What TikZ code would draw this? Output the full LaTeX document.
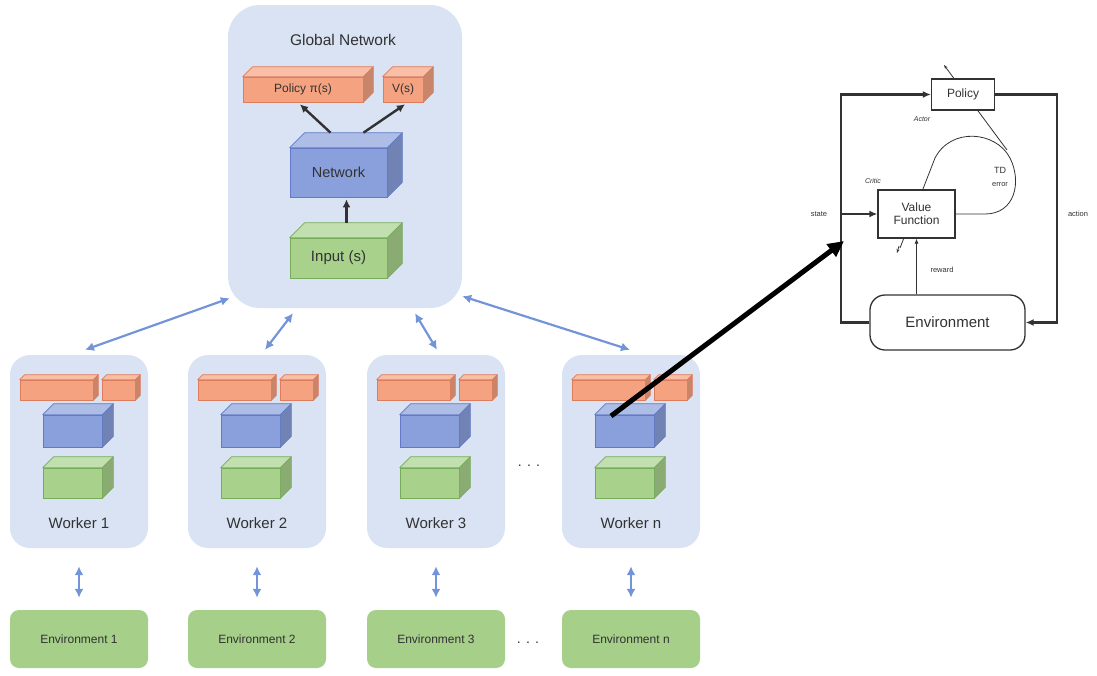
\documentclass[tikz,border=0pt]{standalone}
\usepackage{fontspec}
\setmainfont{Liberation Sans}
\usetikzlibrary{arrows.meta}

\definecolor{panel}{RGB}{217,227,243}
\definecolor{orfill}{RGB}{245,162,128}
\definecolor{oredge}{RGB}{222,125,92}
\definecolor{bufill}{RGB}{138,160,220}
\definecolor{buedge}{RGB}{98,122,198}
\definecolor{grfill}{RGB}{168,210,140}
\definecolor{gredge}{RGB}{118,172,92}
\definecolor{envgreen}{RGB}{166,207,138}
\definecolor{linkblue}{RGB}{116,148,218}
\definecolor{ink}{RGB}{50,50,50}

% top and right faces of a box drawn from its front node
\newcommand\cubefaces[4]{%
  \filldraw[fill=#3!70!white, draw=#4, line width=0.7pt, line join=round]
    (#1.north west) -- ++(#2pt,#2pt) -- ([shift={(#2pt,#2pt)}]#1.north east)
    -- (#1.north east) -- cycle;
  \filldraw[fill=#3!82!black, draw=#4, line width=0.7pt, line join=round]
    (#1.north east) -- ([shift={(#2pt,#2pt)}]#1.north east)
    -- ([shift={(#2pt,#2pt)}]#1.south east) -- (#1.south east) -- cycle;
}

\tikzset{
  panelbox/.style={fill=panel, draw=none, rounded corners=#1, inner sep=0pt},
  front/.style n args={2}{fill=#1, draw=#2, line width=0.7pt, inner sep=0pt, text=ink},
  envbox/.style={fill=envgreen, draw=none, rounded corners=9pt, minimum width=138pt,
    minimum height=58pt, inner sep=0pt, text=ink, font=\fontsize{12}{14}\selectfont},
  link/.style={draw=linkblue, line width=2.2pt, {Latex[length=9pt,width=9pt]}-{Latex[length=9pt,width=9pt]}},
  netarrow/.style={draw=ink, line width=2.4pt, -{Latex[length=8pt,width=8pt]}},
  rlbox/.style={draw=ink, line width=1.3pt, fill=white, inner sep=0pt, text=ink},
  rlline/.style={draw=ink, line width=2.2pt},
  rltip/.style={-{Latex[length=8pt,width=7pt]}},
  tdline/.style={draw=ink, line width=0.8pt},
  small/.style={text=ink, font=\fontsize{7.5}{9}\selectfont, inner sep=0pt},
}

\begin{document}
\begin{tikzpicture}[x=1pt, y=-1pt]
\useasboundingbox (0,0) rectangle (1097,675);

% ---------- global network ----------
\node[panelbox=32pt, minimum width=234pt, minimum height=303pt] (glob) at (345,156.5) {};
\node[text=ink, font=\fontsize{15.5}{18}\selectfont] (gtitle) at (343,40) {Global Network};

\node[front={orfill}{oredge}, minimum width=120pt, minimum height=25pt,
      font=\fontsize{12}{14}\selectfont] (gpol) at (303,89.5) {Policy π(s)};
\cubefaces{gpol}{10}{orfill}{oredge}
\node[front={orfill}{oredge}, minimum width=40pt, minimum height=25pt,
      font=\fontsize{12}{14}\selectfont] (gval) at (403,89.5) {V(s)};
\cubefaces{gval}{10}{orfill}{oredge}
\node[front={bufill}{buedge}, minimum width=97pt, minimum height=49pt,
      font=\fontsize{14.5}{17}\selectfont] (gnet) at (338.5,172.5) {Network};
\cubefaces{gnet}{15}{bufill}{buedge}
\node[front={grfill}{gredge}, minimum width=97pt, minimum height=40pt,
      font=\fontsize{15}{18}\selectfont] (ginp) at (338.5,258) {Input (s)};
\cubefaces{ginp}{15}{grfill}{gredge}

\draw[netarrow] ([xshift=-8pt,yshift=15pt]gnet.north) -- ([xshift=-3pt,yshift=-2pt]gpol.south);
\draw[netarrow] ([xshift=25pt,yshift=15pt]gnet.north) -- ([xshift=2pt,yshift=-2pt]gval.south);
\draw[netarrow] ([xshift=8pt,yshift=15pt]ginp.north) -- ([xshift=8pt,yshift=-2pt]gnet.south);

% ---------- workers and environments ----------
\foreach \ox/\id in {10/1, 188/2, 367/3, 562/n} {
  \node[panelbox=20pt, minimum width=138pt, minimum height=193pt] (w\id) at (\ox+69,451.5) {};
  \node[front={orfill}{oredge}, minimum width=73pt, minimum height=20pt] (w\id-pa) at (\ox+46.5,390) {};
  \cubefaces{w\id-pa}{5}{orfill}{oredge}
  \node[front={orfill}{oredge}, minimum width=33pt, minimum height=20pt] (w\id-pb) at (\ox+108.5,390) {};
  \cubefaces{w\id-pb}{5}{orfill}{oredge}
  \node[front={bufill}{buedge}, minimum width=59pt, minimum height=32pt] (w\id-net) at (\ox+62.5,431) {};
  \cubefaces{w\id-net}{11}{bufill}{buedge}
  \node[front={grfill}{gredge}, minimum width=59pt, minimum height=30pt] (w\id-in) at (\ox+62.5,483) {};
  \cubefaces{w\id-in}{11}{grfill}{gredge}
  \node[text=ink, font=\fontsize{15}{18}\selectfont] (wl\id) at (\ox+69,523) {Worker \id};
  \node[envbox] (e\id) at (\ox+69,639) {Environment \id};
  \draw[link, shorten <=18pt, shorten >=12pt] (w\id.south) -- (e\id.north);
}

\node[text=ink, font=\fontsize{14}{16}\selectfont] (dots1) at (529,466) {. . .};
\node[text=ink, font=\fontsize{14}{16}\selectfont] (dots2) at (528,643) {. . .};

\draw[link] ([xshift=2pt,yshift=10pt]glob.south west) -- ([xshift=6pt,yshift=5pt]w1.north);
\draw[link] ([xshift=-52pt,yshift=-5pt]glob.south) -- ([xshift=8pt,yshift=5pt]w2.north);
\draw[link] ([xshift=70pt,yshift=-5pt]glob.south) -- ([xshift=1pt,yshift=5pt]w3.north);
\draw[link] ([xshift=0pt,yshift=12pt]glob.south east) -- ([xshift=-1pt,yshift=5pt]wn.north);

% ---------- actor-critic loop ----------
\coordinate (lt) at (841,93);
\coordinate (rt) at (1057,93);
\coordinate (tdj) at (1007,150);
\coordinate (ptip) at (944,65);

% TD error feedback (drawn under the boxes)
\draw[tdline] (917,214) -- (985,214)
  .. controls (1015,214) and (1022,182) .. (1010,158)
  .. controls (996,131) and (951,127) .. (935,158)
  -- (900,248);
\draw[tdline, -{Stealth[length=4pt,width=3pt]}] (899,246) -- (897,253);
\draw[tdline, -{Stealth[length=4pt,width=3pt]}] (tdj) -- (ptip);

\node[rlbox, minimum width=63pt, minimum height=31pt,
      font=\fontsize{12}{14}\selectfont] (pol) at (963,94.5) {Policy};
\node[rlbox, minimum width=77pt, minimum height=48pt, align=center,
      font=\fontsize{12}{13}\selectfont] (vf) at (916.5,214) {Value\\Function};
\node[rlbox, rounded corners=15pt, minimum width=155pt, minimum height=55pt,
      font=\fontsize{15}{18}\selectfont] (env) at (947.5,322.5) {Environment};

\draw[rlline, rltip] (env.west) -- (env.west -| lt) -- (pol.west -| lt) -- (pol.west);
\draw[rlline, rltip] (pol.east) -- (pol.east -| rt) -- (env.east -| rt) -- (env.east);
\draw[rlline, rltip] (vf.west -| lt) -- (vf.west);
\draw[tdline, -{Latex[length=5pt,width=4pt]}] (env.north -| vf.south) -- (vf.south);

\node[small, font=\fontsize{7}{8}\selectfont\itshape] (actor) at (922,119) {Actor};
\node[small, font=\fontsize{7}{8}\selectfont\itshape] (critic) at (873,181) {Critic};
\node[small, font=\fontsize{9}{10}\selectfont] (tdl) at (1000,170) {TD};
\node[small] (errl) at (1000,185) {error};
\node[small] (statel) at (819,214) {state};
\node[small] (actionl) at (1078,214) {action};
\node[small] (rewardl) at (942,270) {reward};

% ---------- zoom-out arrow ----------
\coordinate (src) at (611,416);
\coordinate (dst) at (844,241);
\draw[line width=5pt, -{Triangle[length=16pt,width=15pt]}] (src) -- (dst);
\end{tikzpicture}
\end{document}
